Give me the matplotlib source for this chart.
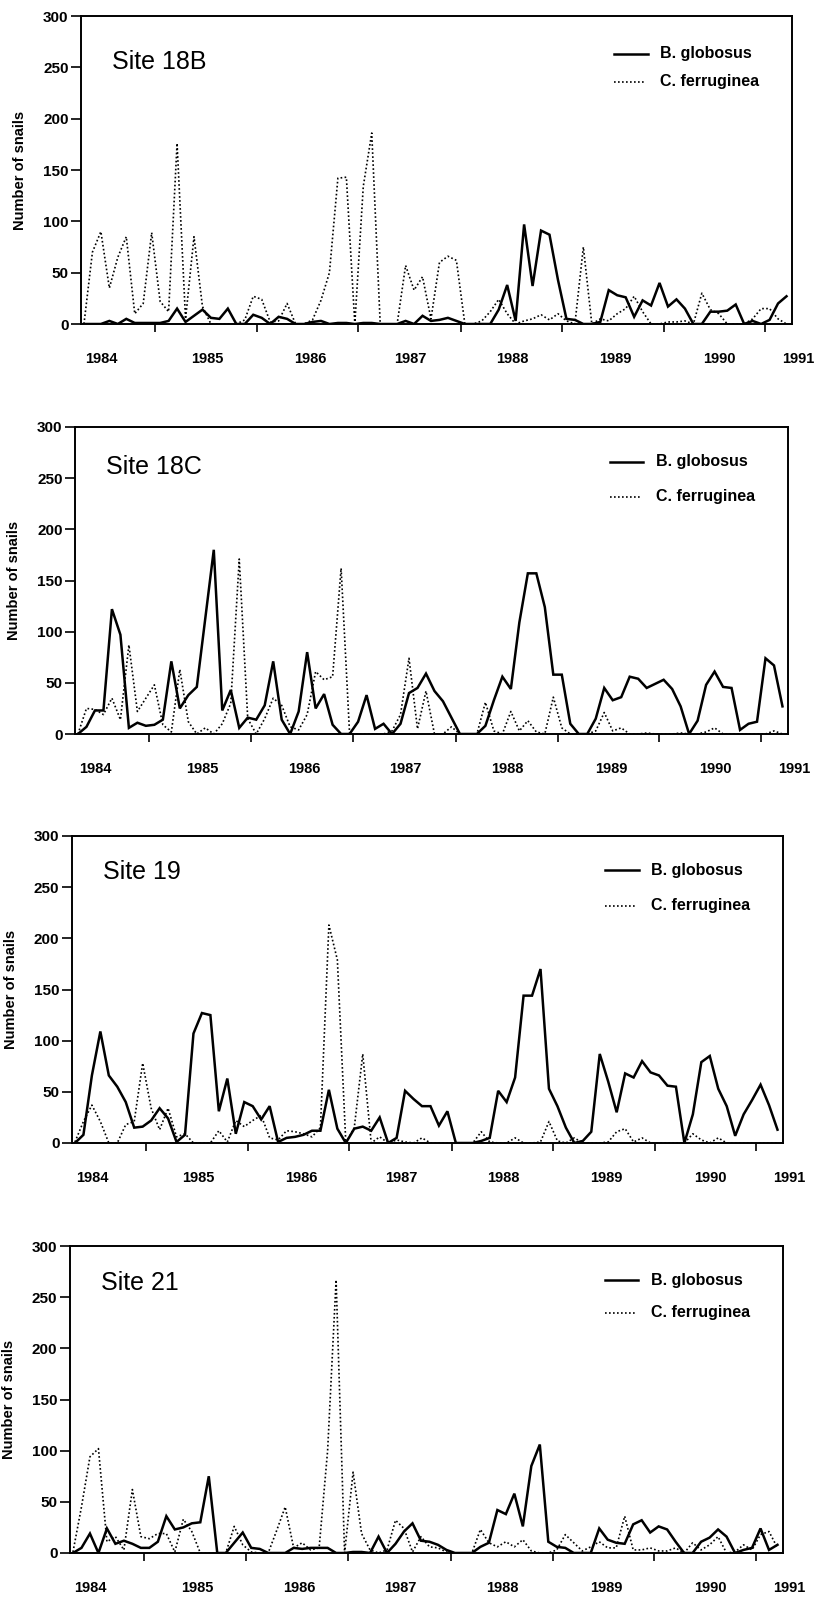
import numpy as np
import matplotlib
matplotlib.use('Agg')
import matplotlib.pyplot as plt
from matplotlib.transforms import blended_transform_factory

plt.rcParams['font.family'] = ['Liberation Sans', 'DejaVu Sans']

# monthly samples, first one ~ spring 1984
sites = ['Site 18B', 'Site 18C', 'Site 19', 'Site 21']
years = ['1984', '1985', '1986', '1987', '1988', '1989', '1990', '1991']
year_pos = [2.0, 14.6, 26.7, 38.6, 50.6, 62.8, 75.1, 84.4]
tick_pos = [8.4, 20.4, 32.4, 44.5, 56.5, 68.5, 80.5]
y_ticks = [0, 50, 100, 150, 200, 250, 300]

bg_18b = [0, 0, 0, 3, 0, 5, 1, 1, 1, 1,
          3, 15, 2, 8, 14, 6, 5, 15, 0, 0,
          9, 6, 0, 7, 5, 0, 0, 2, 3, 0,
          1, 1, 0, 1, 1, 0, 0, 0, 3, 0,
          8, 3, 4, 6, 3, 0, 0, 0, 0, 14,
          38, 3, 97, 37, 91, 87, 43, 5, 4, 0,
          0, 2, 33, 28, 26, 7, 23, 18, 40, 17,
          24, 15, 0, 0, 12, 12, 13, 19, 0, 3,
          0, 4, 20, 27]
cf_18b = [0, 70, 90, 35, 65, 85, 10, 20, 89, 22,
          12, 176, 5, 85, 17, 0, 0, 0, 0, 4,
          27, 24, 2, 3, 20, 0, 0, 4, 23, 50,
          142, 143, 0, 134, 186, 0, 0, 0, 57, 33,
          46, 5, 60, 66, 62, 0, 0, 3, 12, 24,
          10, 0, 3, 5, 9, 4, 10, 3, 0, 75,
          0, 5, 3, 10, 15, 27, 12, 0, 0, 2,
          2, 3, 0, 30, 14, 10, 0, 0, 0, 5,
          15, 15, 5, 0]

bg_18c = [0, 7, 23, 23, 122, 97, 6, 11, 8, 9,
          14, 71, 25, 38, 46, 113, 180, 23, 43, 6,
          16, 14, 28, 71, 14, 0, 22, 80, 25, 39,
          9, 0, 0, 12, 38, 5, 10, 0, 10, 40,
          45, 59, 42, 32, 16, 0, 0, 0, 8, 33,
          56, 44, 109, 157, 157, 124, 58, 58, 10, 0,
          0, 15, 45, 33, 36, 56, 54, 45, 49, 53,
          44, 27, 0, 13, 48, 61, 46, 45, 4, 10,
          12, 74, 67, 27]
cf_18c = [0, 25, 24, 19, 35, 14, 87, 22, 35, 48,
          9, 2, 63, 12, 0, 6, 0, 10, 30, 171,
          15, 0, 15, 35, 28, 7, 4, 19, 61, 53,
          56, 162, 0, 0, 0, 0, 0, 3, 19, 74,
          5, 42, 0, 0, 7, 0, 0, 0, 31, 3,
          0, 22, 3, 13, 2, 0, 36, 6, 0, 0,
          0, 3, 21, 3, 6, 0, 0, 1, 0, 0,
          0, 1, 0, 0, 2, 6, 0, 0, 0, 0,
          0, 0, 3, 0]

bg_19 = [0, 8, 66, 109, 66, 55, 40, 15, 16, 22,
         34, 24, 1, 8, 107, 127, 125, 31, 63, 9,
         40, 36, 23, 36, 1, 5, 6, 8, 12, 12,
         52, 14, 0, 14, 16, 12, 25, 0, 5, 51,
         43, 36, 36, 17, 31, 0, 0, 0, 2, 5,
         51, 40, 64, 144, 144, 170, 53, 36, 15, 0,
         2, 11, 87, 60, 30, 68, 64, 80, 69, 66,
         56, 55, 0, 28, 79, 85, 53, 36, 7, 28,
         42, 57, 37, 13]
cf_19 = [1, 21, 37, 21, 0, 0, 18, 21, 78, 34,
         13, 34, 6, 9, 0, 0, 0, 12, 1, 22,
         16, 22, 27, 5, 3, 12, 11, 9, 6, 15,
         213, 179, 0, 15, 87, 0, 6, 0, 3, 1,
         0, 5, 0, 0, 0, 0, 0, 0, 11, 1,
         0, 0, 5, 0, 0, 1, 21, 2, 0, 5,
         0, 0, 0, 1, 11, 14, 1, 5, 0, 0,
         0, 0, 0, 9, 3, 0, 5, 0, 0, 0,
         0, 0, 0, 0]

bg_21 = [0, 5, 19, 0, 24, 9, 12, 9, 5, 5,
         11, 36, 23, 25, 29, 30, 75, 0, 0, 10,
         20, 5, 4, 0, 0, 0, 5, 4, 5, 5,
         5, 0, 0, 1, 1, 0, 16, 0, 9, 21,
         29, 12, 11, 8, 3, 0, 0, 0, 6, 10,
         42, 38, 58, 26, 85, 106, 11, 6, 5, 0,
         0, 0, 24, 13, 10, 9, 28, 32, 20, 26,
         23, 11, 0, 0, 11, 15, 23, 16, 0, 3,
         5, 24, 3, 8]
cf_21 = [1, 45, 94, 102, 11, 16, 3, 62, 16, 14,
         19, 19, 1, 33, 21, 0, 0, 0, 0, 26,
         8, 1, 0, 0, 22, 45, 5, 10, 3, 5,
         100, 267, 0, 79, 19, 3, 0, 3, 32, 24,
         1, 16, 6, 5, 1, 0, 0, 0, 23, 10,
         6, 11, 6, 13, 2, 0, 0, 3, 18, 10,
         2, 6, 11, 5, 5, 36, 3, 3, 5, 2,
         2, 5, 0, 10, 3, 8, 16, 0, 1, 8,
         3, 18, 21, 5]

solid = [bg_18b, bg_18c, bg_19, bg_21]
dotted = [cf_18b, cf_18c, cf_19, cf_21]

# panel boxes in pixels (left, top, right, bottom), scan is a bit skewed
boxes = [(81, 16, 792, 324), (75, 427, 788, 734), (72, 836, 783, 1143), (70, 1246, 783, 1553)]
title_y = [0.85, 0.87, 0.883, 0.88]
leg_y = [(0.877, 0.786), (0.886, 0.772), (0.889, 0.772), (0.889, 0.782)]

W, H = 815, 1602
fig = plt.figure(figsize=(W / 100, H / 100), dpi=100)

for k in range(4):
    l, t, r, b = boxes[k]
    ax = fig.add_axes([l / W, 1 - b / H, (r - l) / W, (b - t) / H])
    x = np.arange(len(solid[k]))
    ax.plot(x, solid[k], color='black', lw=1.8, solid_joinstyle='miter')
    ax.plot(x, dotted[k], color='black', lw=1.2, linestyle=(0, (1, 1.4)))
    ax.set_xlim(-0.35, 83.65)
    ax.set_ylim(0, 300)
    ax.set_yticks(y_ticks, [str(v) for v in y_ticks], fontsize=11, fontweight='bold')
    ax.set_xticks(tick_pos, [])
    ax.tick_params(axis='y', direction='out', length=7, width=1.2, pad=2)
    ax.tick_params(axis='x', direction='out', length=6, width=1.2)
    for s in ax.spines.values():
        s.set_linewidth(1.4)
    ax.set_ylabel('Number of snails', fontsize=10.5, fontweight='bold')
    ax.yaxis.set_label_coords(-54 / (r - l), 0.5)

    tr = blended_transform_factory(ax.transData, ax.transAxes)
    for yr, p in zip(years, year_pos):
        ax.text(p, -35 / (b - t), yr, transform=tr, ha='center', va='center',
                fontsize=10.5, fontweight='bold', clip_on=False)

    ax.text(0.044, title_y[k], sites[k], transform=ax.transAxes, fontsize=18,
            ha='left', va='center')

    # legend
    y1, y2 = leg_y[k]
    ax.plot([0.75, 0.797], [y1, y1], transform=ax.transAxes, color='black', lw=1.8)
    ax.plot([0.75, 0.792], [y2, y2], transform=ax.transAxes, color='black', lw=1.2,
            linestyle=(0, (1, 1.4)))
    ax.text(0.815, y1, 'B. globosus', transform=ax.transAxes, fontsize=11.5,
            fontweight='bold', va='center', ha='left')
    ax.text(0.815, y2, 'C. ferruginea', transform=ax.transAxes, fontsize=11.5,
            fontweight='bold', va='center', ha='left')

fig.savefig('out.png', dpi=100)
